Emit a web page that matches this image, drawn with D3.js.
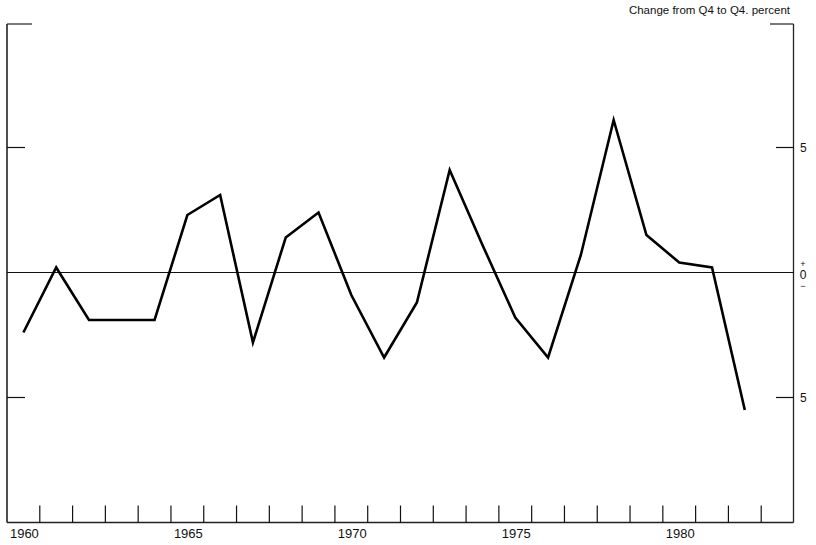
<!DOCTYPE html>
<html>
<head>
<meta charset="utf-8">
<script src="https://cdn.jsdelivr.net/npm/d3@7"></script>
<style>
  body { margin: 0; background: #fff; }
  svg { display: block; font-family: "Liberation Sans", Arial, sans-serif; }
</style>
</head>
<body>
<div id="chart"></div>
<script>
// chart data
var years = [1960, 1961, 1962, 1963, 1964, 1965, 1966, 1967, 1968, 1969, 1970,
             1971, 1972, 1973, 1974, 1975, 1976, 1977, 1978, 1979, 1980, 1981, 1982];
var change = [-2.4, 0.2, -1.9, -1.9, -1.9, 2.3, 3.1, -2.8, 1.4, 2.4, -0.9,
              -3.4, -1.2, 4.1, 1.1, -1.8, -3.4, 0.7, 6.1, 1.5, 0.4, 0.2, -5.5];
var yearLabels = [1960, 1965, 1970, 1975, 1980];
var sideTicks = [5, -5];
var subtitle = "Change from Q4 to Q4. percent";

var width = 816, height = 545;
var plotLeft = 7, plotRight = 794, plotTop = 22.5, plotBottom = 522.5;

var svg = d3.select("#chart").append("svg")
  .attr("width", width)
  .attr("height", height);

// one band per year, last band (1983) left empty as in the original
var bandYears = d3.range(1960, 1984);
var x = d3.scaleBand().domain(bandYears).range([plotLeft, plotRight]).padding(0);
var y = d3.scaleLinear().domain([-10, 10]).range([plotBottom, plotTop]);

//Frame: left and right sides, short corner stubs at top
var frameTop = y(10) + 1.5;
var frame = svg.append("g").attr("stroke", "#222").attr("fill", "none");
frame.append("line").attr("x1", plotLeft).attr("x2", plotLeft).attr("y1", frameTop).attr("y2", plotBottom).attr("stroke-width", 1.6);
frame.append("line").attr("x1", plotRight - 0.5).attr("x2", plotRight - 0.5).attr("y1", frameTop).attr("y2", plotBottom).attr("stroke-width", 1.3);
frame.append("line").attr("x1", plotLeft).attr("x2", plotLeft + 25).attr("y1", frameTop).attr("y2", frameTop).attr("stroke-width", 1.2);
frame.append("line").attr("x1", plotRight - 24).attr("x2", plotRight - 0.5).attr("y1", frameTop).attr("y2", frameTop).attr("stroke-width", 1.2);
frame.append("line").attr("x1", plotLeft).attr("x2", plotRight - 0.5).attr("y1", plotBottom).attr("y2", plotBottom).attr("stroke-width", 1.4);

// zero line
svg.append("line")
  .attr("x1", plotLeft).attr("x2", plotRight - 0.5)
  .attr("y1", y(0)).attr("y2", y(0))
  .attr("stroke", "#111").attr("stroke-width", 1);

// side ticks (both pointing into the plot)
svg.append("g").selectAll("line")
  .data(sideTicks).enter().append("line")
  .attr("x1", plotLeft).attr("x2", plotLeft + 18)
  .attr("y1", d => y(d)).attr("y2", d => y(d))
  .attr("stroke", "#111").attr("stroke-width", 1.2);
svg.append("g").selectAll("line")
  .data(sideTicks).enter().append("line")
  .attr("x1", plotRight - 18).attr("x2", plotRight - 0.5)
  .attr("y1", d => y(d)).attr("y2", d => y(d))
  .attr("stroke", "#111").attr("stroke-width", 1.2);

// right labels
svg.append("g").selectAll("text")
  .data(sideTicks).enter().append("text")
  .attr("x", plotRight + 6).attr("y", d => y(d) + 4.5)
  .attr("font-size", 12).attr("fill", "#111")
  .text(d => Math.abs(d));
// zero label: + above 0 above minus
var zl = svg.append("g").attr("fill", "#111").attr("text-anchor", "middle");
zl.append("text").attr("x", plotRight + 9).attr("y", y(0) - 6).attr("font-size", 9).text("+");
zl.append("text").attr("x", plotRight + 9).attr("y", y(0) + 6).attr("font-size", 12).text("0");
zl.append("text").attr("x", plotRight + 9).attr("y", y(0) + 16).attr("font-size", 9).text("\u2212");

// year ticks at band boundaries
svg.append("g").selectAll("line")
  .data(bandYears.slice(1)).enter().append("line")
  .attr("x1", d => x(d)).attr("x2", d => x(d))
  .attr("y1", plotBottom).attr("y2", plotBottom - 17)
  .attr("stroke", "#111").attr("stroke-width", 1.2);

// year labels centred on the band
svg.append("g").selectAll("text")
  .data(yearLabels).enter().append("text")
  .attr("x", d => x(d) + x.bandwidth() / 2 + 1)
  .attr("y", 538)
  .attr("text-anchor", "middle")
  .attr("font-size", 13).attr("fill", "#111")
  .text(d => d);

// subtitle
svg.append("text")
  .attr("x", 790).attr("y", 14)
  .attr("text-anchor", "end")
  .attr("font-size", 11.5).attr("fill", "#111")
  .text(subtitle);

// the series
var line = d3.line()
  .x((d, i) => x(years[i]) + x.bandwidth() / 2)
  .y(d => y(d));
svg.append("path")
  .datum(change)
  .attr("d", line)
  .attr("fill", "none")
  .attr("stroke", "#000")
  .attr("stroke-width", 2.6)
  .attr("stroke-linejoin", "miter");
</script>
</body>
</html>
